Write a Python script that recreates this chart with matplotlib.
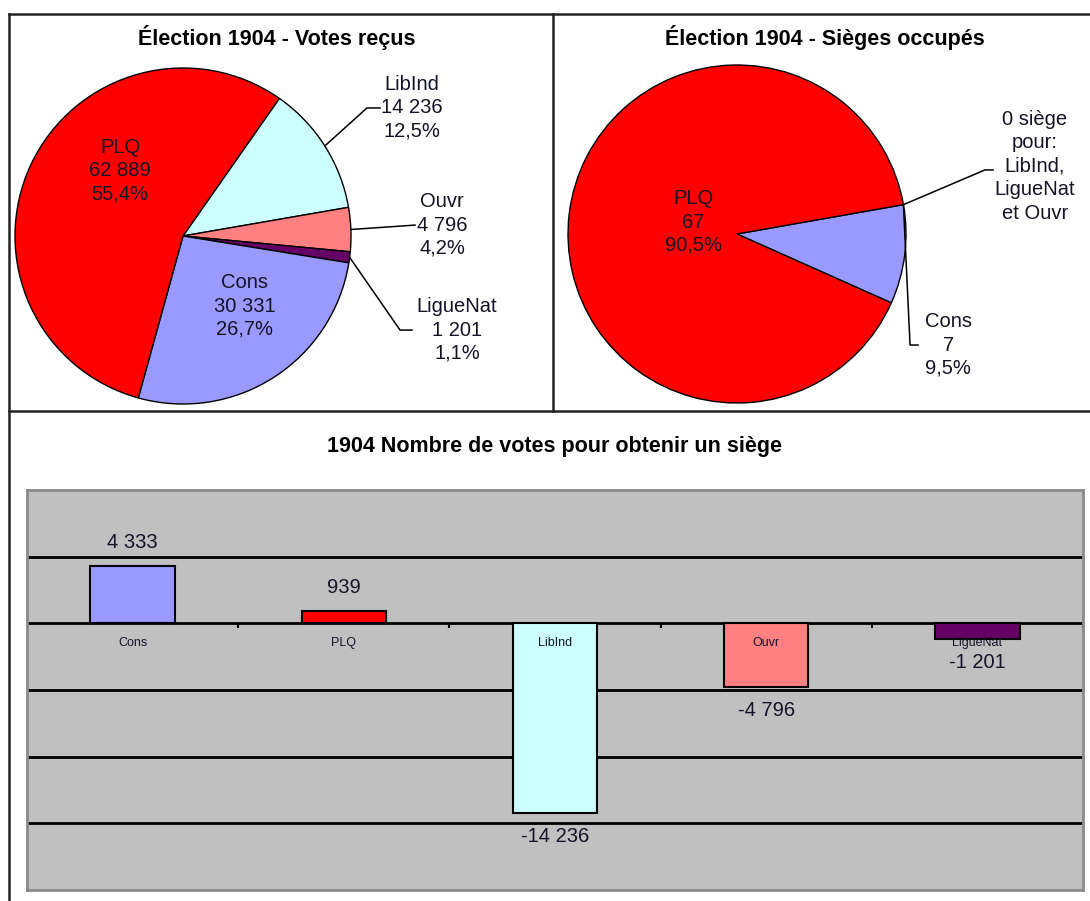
import numpy as np
import matplotlib
matplotlib.use('Agg')
import matplotlib.pyplot as plt
from matplotlib.lines import Line2D

plt.rcParams['font.family'] = ['Liberation Sans', 'DejaVu Sans']

# Votes reçus (1904)
vote_parties = ['LibInd', 'Ouvr', 'LigueNat', 'Cons', 'PLQ']
vote_counts = [14236, 4796, 1201, 30331, 62889]
vote_colors = ['#CCFFFF', '#FF8080', '#660066', '#9999FF', '#FF0000']

# Sièges occupés (1904)
seat_parties = ['Cons', 'PLQ']
seat_counts = [7, 67]
seat_colors = ['#9999FF', '#FF0000']
no_seat_text = '0 siège\npour:\nLibInd,\nLigueNat\net Ouvr'

# Nombre de votes pour obtenir un siège
bar_parties = ['Cons', 'PLQ', 'LibInd', 'Ouvr', 'LigueNat']
bar_values = [4333, 939, -14236, -4796, -1201]
bar_colors = ['#9999FF', '#FF0000', '#CCFFFF', '#FF8080', '#660066']

W, H = 1090, 901
TXT = '#141428'


def fmt(v):
    return f"{v:,}".replace(',', ' ')


def pct(v, total):
    return f"{100 * v / total:.1f}%".replace('.', ',')


def pie_axes(fig, cx, cy, r):
    ax = fig.add_axes([(cx - r) / W, 1 - (cy + r) / H, 2 * r / W, 2 * r / H])
    return ax


fig = plt.figure(figsize=(W / 100, H / 100), dpi=100)

# frame lines around the panels
for (x0, y0, x1, y1) in [(9, 14, 1090, 14), (9, 14, 9, 901), (553, 14, 553, 411), (9, 411, 1090, 411)]:
    fig.add_artist(Line2D([x0 / W, x1 / W], [1 - y0 / H, 1 - y1 / H], color='#222222', lw=1.8))

# ---- left pie: votes
ax1 = pie_axes(fig, 183, 236, 168)
wedges, _ = ax1.pie(vote_counts, colors=vote_colors, startangle=55, counterclock=False,
                    wedgeprops=dict(edgecolor='black', linewidth=1.0))
ax1.set_xlim(-1, 1)
ax1.set_ylim(-1, 1)
total_votes = sum(vote_counts)
# label position, leader elbow/end (in radius units), None = inside
vote_layout = {
    'LibInd': ((1.363, 0.762), [(1.095, 0.762), (1.173, 0.762)]),
    'Ouvr': ((1.542, 0.065), [(1.381, 0.065)]),
    'LigueNat': ((1.631, -0.56), [(1.292, -0.56), (1.363, -0.56)]),
    'Cons': ((0.369, -0.417), None),
    'PLQ': ((-0.375, 0.387), None),
}
for w, name, v in zip(wedges, vote_parties, vote_counts):
    pos, leader = vote_layout[name]
    ax1.text(pos[0], pos[1], f"{name}\n{fmt(v)}\n{pct(v, total_votes)}", ha='center', va='center',
             fontsize=14.5, color=TXT, linespacing=1.28)
    if leader:
        a = np.deg2rad((w.theta1 + w.theta2) / 2)
        pts = [(np.cos(a), np.sin(a))] + leader
        ax1.plot([p[0] for p in pts], [p[1] for p in pts], color='black', lw=1.1, clip_on=False)

fig.text(277 / W, 1 - 38 / H, 'Élection 1904 - Votes reçus', ha='center', va='center',
         fontsize=15.5, fontweight='bold')

# ---- right pie: seats
ax2 = pie_axes(fig, 737, 234, 169)
start = 10
wedges2, _ = ax2.pie(seat_counts, colors=seat_colors, startangle=start, counterclock=False,
                     wedgeprops=dict(edgecolor='black', linewidth=1.0))
ax2.set_xlim(-1, 1)
ax2.set_ylim(-1, 1)
total_seats = sum(seat_counts)
seat_layout = {
    'Cons': ((1.25, -0.657), [(1.024, -0.657), (1.071, -0.657)]),
    'PLQ': ((-0.26, 0.071), None),
}
a0 = np.deg2rad(start)
corner = (np.cos(a0), np.sin(a0))
for w, name, v in zip(wedges2, seat_parties, seat_counts):
    pos, leader = seat_layout[name]
    ax2.text(pos[0], pos[1], f"{name}\n{v}\n{pct(v, total_seats)}", ha='center', va='center',
             fontsize=14.5, color=TXT, linespacing=1.28)
    if leader:
        pts = [corner] + leader
        ax2.plot([p[0] for p in pts], [p[1] for p in pts], color='black', lw=1.1, clip_on=False)
ax2.text(1.763, 0.40, no_seat_text, ha='center', va='center', fontsize=14.5, color=TXT, linespacing=1.3)
pts = [corner, (1.467, 0.379), (1.515, 0.379)]
ax2.plot([p[0] for p in pts], [p[1] for p in pts], color='black', lw=1.1, clip_on=False)

fig.text(825 / W, 1 - 38 / H, 'Élection 1904 - Sièges occupés', ha='center', va='center',
         fontsize=15.5, fontweight='bold')

# ---- bottom bar chart
ax3 = fig.add_axes([27 / W, 1 - 890 / H, (1083 - 27) / W, (890 - 490) / H])
ax3.set_facecolor('#C0C0C0')
x = np.arange(len(bar_parties))
ax3.bar(x, bar_values, width=0.4, color=bar_colors, edgecolor='black', linewidth=1.5, zorder=3)
ax3.set_xlim(-0.5, len(bar_parties) - 0.5)
ax3.set_ylim(-20000, 10000)
ax3.set_yticks(np.arange(-15000, 10000, 5000))
ax3.set_xticks([])
ax3.tick_params(axis='y', length=0, labelleft=False)
ax3.yaxis.grid(True, color='black', lw=2.0)
ax3.set_axisbelow(True)
for s in ax3.spines.values():
    s.set_color('#8a8a8a')
    s.set_linewidth(2)
ax3.vlines(np.arange(len(bar_parties) + 1) - 0.5, -330, 0, color='black', lw=1.5, zorder=2)
for xi, name, v in zip(x, bar_parties, bar_values):
    ax3.text(xi, -1500, name, ha='center', va='center', fontsize=9, color=TXT, zorder=4)
    off = 10 if v > 0 else -10
    ax3.annotate(fmt(v), (xi, v), xytext=(0, off), textcoords='offset points', ha='center',
                 va='bottom' if v > 0 else 'top', fontsize=14.5, color=TXT, zorder=4)

fig.text(555 / W, 1 - 447 / H, '1904 Nombre de votes pour obtenir un siège', ha='center', va='center',
         fontsize=15.5, fontweight='bold')

fig.savefig('out.png', dpi=100)
